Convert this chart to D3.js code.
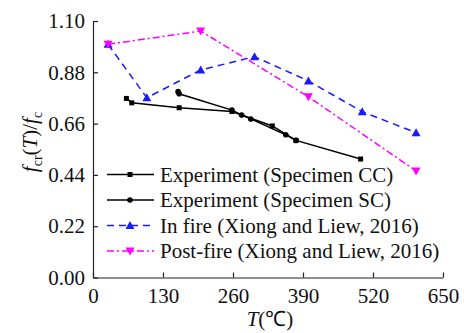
<!DOCTYPE html>
<html><head><meta charset="utf-8">
<script src="https://cdn.jsdelivr.net/npm/d3@7"></script>
<style>body{margin:0;background:#fff}svg{display:block}</style>
</head><body><svg id="c" width="464" height="333"></svg>
<script>
const FONT = "Liberation Serif";
const xTicks = [0,130,260,390,520,650];
const yTicks = [0.00,0.22,0.44,0.66,0.88,1.10];
const ccT = [62,72,160,258,333,377,497];
const ccV = [0.768,0.749,0.728,0.712,0.650,0.588,0.508];
const scT = [158,160,258,276,293,358,377];
const scV = [0.797,0.788,0.718,0.697,0.680,0.612,0.588];
const inT = [28,100,200,300,400,500,600];
const inV = [1.00,0.771,0.890,0.947,0.843,0.711,0.621];
const pfT = [28,200,400,600];
const pfV = [1.00,1.057,0.775,0.457];
const seriesNames = ["Experiment (Specimen CC)","Experiment (Specimen SC)","In fire (Xiong and Liew, 2016)","Post-fire (Xiong and Liew, 2016)"];

const svg = d3.select("#c").attr("font-family",FONT);
const x = d3.scaleLinear().domain([0,650]).range([93,443]);
const y = d3.scaleLinear().domain([0,1.10]).range([277.5,21]);

const ax = svg.append("g").attr("transform","translate(0,277.5)")
  .call(d3.axisBottom(x).tickValues(xTicks).tickSizeInner(-5).tickSizeOuter(0).tickPadding(8).tickFormat(d=>d));
const ay = svg.append("g").attr("transform","translate(93,0)")
  .call(d3.axisLeft(y).tickValues(yTicks).tickSizeInner(-5).tickSizeOuter(0).tickPadding(8).tickFormat(d3.format(".2f")));
[ax,ay].forEach(a=>{a.attr("font-family",FONT).attr("font-size",21);
  a.selectAll("path,line").attr("stroke","#222").attr("stroke-width",1.2);
  a.selectAll("text").attr("fill","#111").attr("font-family",FONT);});
ax.selectAll("text").attr("dy","0.85em");

const series = [
  {T:ccT,V:ccV,color:"#000",dash:null,shape:"square"},
  {T:scT,V:scV,color:"#000",dash:null,shape:"circle"},
  {T:inT,V:inV,color:"#1a1aff",dash:"7,5",shape:"up"},
  {T:pfT,V:pfV,color:"#ff00ff",dash:"7,3,2,3",shape:"down"}
];
const line = d3.line().x(d=>x(d[0])).y(d=>y(d[1]));
function marker(g,shape,cx,cy,color){
  if(shape==="square") g.append("rect").attr("x",cx-2.5).attr("y",cy-2.5).attr("width",5).attr("height",5).attr("fill",color);
  else if(shape==="circle") g.append("circle").attr("cx",cx).attr("cy",cy).attr("r",2.8).attr("fill",color);
  else if(shape==="up") g.append("path").attr("d",`M${cx},${cy-4.5}L${cx+4.5},${cy+3.5}L${cx-4.5},${cy+3.5}Z`).attr("fill",color);
  else g.append("path").attr("d",`M${cx},${cy+4.5}L${cx+4.5},${cy-3.5}L${cx-4.5},${cy-3.5}Z`).attr("fill",color);
}
series.forEach(s=>{
  const pts = s.T.map((t,i)=>[t,s.V[i]]);
  svg.append("path").attr("d",line(pts)).attr("fill","none").attr("stroke",s.color)
    .attr("stroke-width",1.5).attr("stroke-dasharray",s.dash);
  const g = svg.append("g");
  pts.forEach(p=>marker(g,s.shape,x(p[0]),y(p[1]),s.color));
});
// legend
const ly0 = 174.5, ldy = 25.5;
series.forEach((s,i)=>{
  const yy = ly0+i*ldy;
  svg.append("line").attr("x1",107).attr("x2",154).attr("y1",yy).attr("y2",yy)
    .attr("stroke",s.color).attr("stroke-width",1.5).attr("stroke-dasharray",s.dash);
  const g = svg.append("g");
  marker(g,s.shape,130,yy,s.color);
  svg.append("text").attr("x",160).attr("y",yy+7).attr("font-size",21).attr("font-family",FONT).attr("fill","#111").text(seriesNames[i]);
});
// axis titles
const xl = svg.append("text").attr("x",270).attr("y",326).attr("text-anchor","middle").attr("font-size",21).attr("font-family",FONT).attr("fill","#111");
xl.append("tspan").attr("font-style","italic").text("T");
xl.append("tspan").text("(℃)");
const yl = svg.append("text").attr("transform","translate(37,142) rotate(-90)").attr("text-anchor","middle").attr("font-size",21).attr("font-family",FONT).attr("fill","#111");
yl.append("tspan").attr("font-style","italic").text("f");
yl.append("tspan").attr("font-size",14).attr("dy",5).text("cr");
yl.append("tspan").attr("dy",-5).text("(");
yl.append("tspan").attr("font-style","italic").text("T");
yl.append("tspan").text(")/");
yl.append("tspan").attr("font-style","italic").text("f");
yl.append("tspan").attr("font-size",14).attr("dy",5).text("c");
</script></body></html>
